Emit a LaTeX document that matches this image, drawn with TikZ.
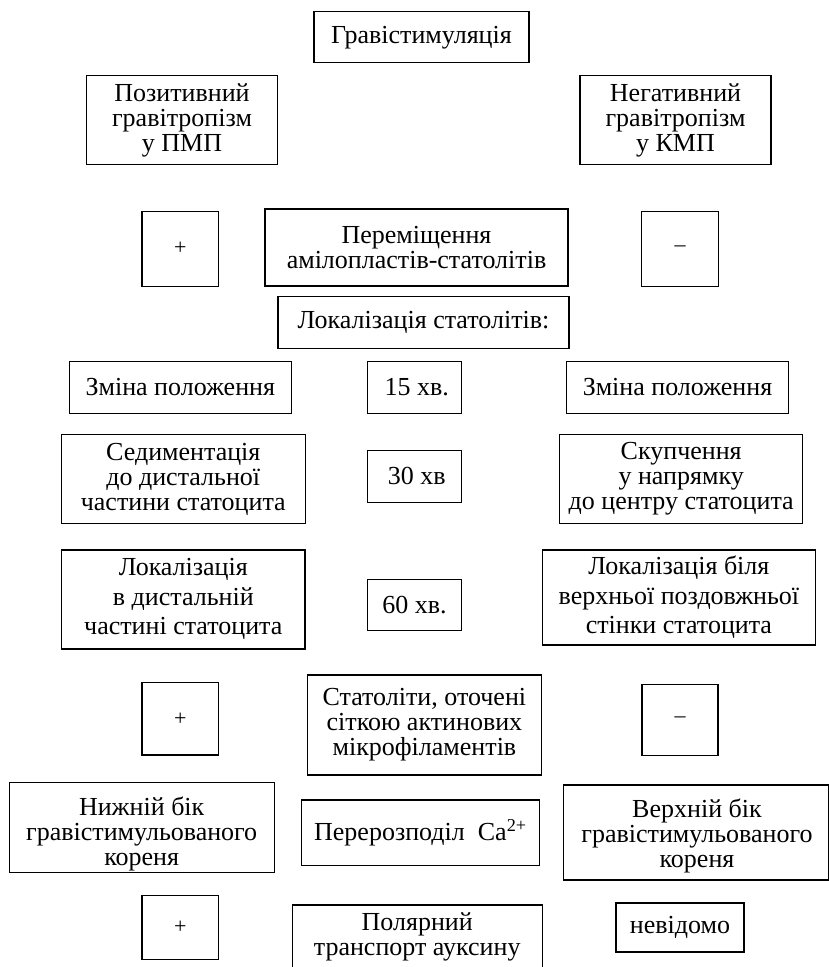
\documentclass[tikz,border=0pt]{standalone}
\usepackage{fontspec}
\setmainfont{Liberation Serif}
\begin{document}
\begin{tikzpicture}[x=1pt,y=-1pt,
  bx/.style={draw,line width=1.1pt,inner sep=0pt,align=center,
    font=\fontsize{26}{25}\selectfont},
  sgn/.style={font=\fontsize{22}{25}\selectfont},
  wide/.style={font=\fontsize{26}{29.5}\selectfont},
  thk/.style={line width=1.7pt},
  tx/.style={inner sep=0pt,align=center,font=\fontsize{26}{25}\selectfont}]
\useasboundingbox (0,0) rectangle (829,967);
\clip (0,0) rectangle (829,967);
\node[bx,minimum width=215pt,minimum height=51pt] (grav) at (421.5,37.2) {Гравістимуляція};
\node[bx,minimum width=191pt,minimum height=89pt] (pos) at (182,120.3) {Позитивний\\гравітропізм\\у ПМП};
\node[bx,minimum width=191pt,minimum height=89pt] (neg) at (675.5,120.3) {Негативний\\гравітропізм\\у КМП};
\node[bx,sgn,minimum width=76.6pt,minimum height=74.7pt] (p1) at (180.3,248.7) {+};
\node[bx,minimum width=303pt,minimum height=77pt] (perem) at (416.5,247.5) {Переміщення\\амілопластів-статолітів};
\node[bx,sgn,minimum width=76.6pt,minimum height=74.7pt] (m1) at (680,248.7) {–};
\node[bx,minimum width=291pt,minimum height=51.6pt] (lokstat) at (423.5,322.5) {Локалізація статолітів:};
\node[bx,minimum width=221.5pt,minimum height=51.6pt] (zmL) at (180.3,387.5) {Зміна положення};
\node[bx,minimum width=94pt,minimum height=51.6pt] (t15) at (414.5,387.5) {\,15 хв.};
\node[bx,minimum width=221.7pt,minimum height=51.6pt] (zmR) at (677.5,387.5) {Зміна положення};
\node[bx,minimum width=243.5pt,minimum height=89.7pt] (sed) at (183.3,478.9) {Седиментація\\до дистальної\\частини статоцита};
\node[bx,minimum width=94pt,minimum height=51.7pt] (t30) at (414.5,476.2) {\,30 хв};
\node[bx,minimum width=243pt,minimum height=89.7pt] (skup) at (681.2,478.9) {Скупчення\\у напрямку\\до центру статоцита};
\node[bx,thk,wide,minimum width=243.5pt,minimum height=99.3pt] (lokL) at (183.3,599.3) {Локалізація\\в дистальній\\частині статоцита};
\node[bx,minimum width=94pt,minimum height=50.7pt] (t60) at (414.5,604.7) {60 хв.};
\node[bx,thk,wide,minimum width=273pt,minimum height=95pt] (lokR) at (678.9,597.5) {Локалізація біля\\верхньої поздовжньої\\стінки статоцита};
\node[bx,sgn,minimum width=76.6pt,minimum height=72.3pt] (p2) at (180.3,718.8) {+};
\node[bx,minimum width=233.3pt,minimum height=100pt] (stat) at (424.4,725) {Статоліти, оточені\\сіткою актинових\\мікрофіламентів};
\node[bx,sgn,minimum width=76pt,minimum height=70.7pt] (m2) at (680,719.7) {–};
\node[bx,minimum width=265.3pt,minimum height=89.6pt] (nyzhbox) at (141.7,827.5) {};
\node[tx] (nyzh) at (141.7,834) {Нижній бік\\гравістимульованого\\кореня};
\node[bx,minimum width=238.2pt,minimum height=65.7pt] (perer) at (420.4,832.8) {Перерозподіл\ \ Ca\textsuperscript{2+}};
\node[bx,minimum width=264.7pt,minimum height=95pt] (verkhbox) at (695.7,832.5) {};
\node[tx] (verkh) at (697,836) {Верхній бік\\гравістимульованого\\кореня};
\node[bx,sgn,minimum width=76.6pt,minimum height=64.3pt] (p3) at (180.3,927.2) {+};
\node[bx,minimum width=249.7pt,minimum height=80pt] (polbox) at (417.2,945) {};
\node[tx] (pol) at (417.2,937) {Полярний\\транспорт ауксину};
\node[bx,minimum width=128pt,minimum height=49pt] (nev) at (680,927.5) {невідомо};
\end{tikzpicture}
\end{document}
